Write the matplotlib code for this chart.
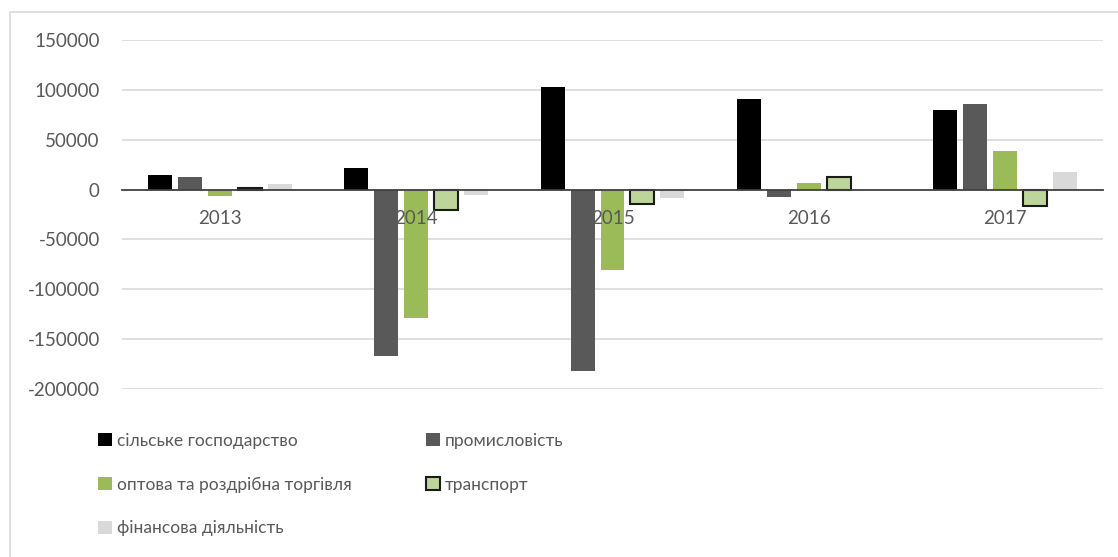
import matplotlib.pyplot as plt
import matplotlib.patches as mpatches
import numpy as np

# datos
anios = ["2013", "2014", "2015", "2016", "2017"]
series = [
    "сільське господарство",
    "промисловість",
    "оптова та роздрібна торгівля",
    "транспорт",
    "фінансова діяльність",
]
silske = [15000, 21500, 103000, 91000, 79500]
promysl = [13000, -166500, -182000, -7400, 85500]
torgivlia = [-6500, -128500, -81000, 7000, 39000]
transport = [1500, -20500, -14700, 12800, -16600]
finansy = [5800, -5000, -8700, 0, 17500]

valores = [silske, promysl, torgivlia, transport, finansy]
colores = ["#000000", "#595959", "#9BBB59", "#BDD59B", "#D9D9D9"]
bordes = [None, None, None, "#1A1A1A", None]

plt.rcParams['font.family'] = ['Lato', 'DejaVu Sans']
plt.rcParams['axes.unicode_minus'] = False
color_texto = "#595959"

fig = plt.figure(figsize=(11.18, 5.57), dpi=100)
ax = fig.add_axes([0.1091, 0.3016, 0.9866 - 0.1091, 0.9282 - 0.3016])

x = np.arange(len(anios))
paso = 0.1526
ancho = 0.122
handles = []
for i, (nombre, vals) in enumerate(zip(series, valores)):
    pos = x + (i - 2) * paso
    if bordes[i]:
        b = ax.bar(pos, vals, ancho, color=colores[i], edgecolor=bordes[i],
                   linewidth=1.5, label=nombre, zorder=1)
    else:
        b = ax.bar(pos, vals, ancho, color=colores[i], label=nombre, zorder=1)
    handles.append(b)

ax.set_xlim(-0.5, 4.5)
ax.set_ylim(-200000, 150000)
yticks = np.arange(-200000, 150001, 50000)
ax.set_yticks(yticks)
# lineas de cuadricula por debajo de las barras
for yt in yticks:
    if yt != 0:
        ax.axhline(yt, color="#D9D9D9", linewidth=1.2, zorder=0)
ax.set_axisbelow(False)
ax.xaxis.set_zorder(5)

for s in ["top", "right", "left"]:
    ax.spines[s].set_visible(False)
ax.spines["bottom"].set_position(("data", 0))
ax.spines["bottom"].set_color("#404040")
ax.spines["bottom"].set_linewidth(1.3)
ax.spines["bottom"].set_zorder(4)

ax.set_xticks(x)
ax.set_xticklabels(anios)
ax.tick_params(axis="x", length=0, pad=15, labelsize=13.5, labelcolor=color_texto)
ax.tick_params(axis="y", length=0, pad=16, labelsize=13.5, labelcolor=color_texto)

# leyenda en orden por filas
orden = [0, 2, 4, 1, 3]
fig.legend([handles[k] for k in orden], [series[k] for k in orden],
           loc="upper left", bbox_to_anchor=(0.074, 0.251), ncol=2,
           frameon=False, fontsize=12.5, labelcolor=color_texto,
           handlelength=0.8, handleheight=0.8, handletextpad=0.3,
           labelspacing=1.6, columnspacing=4.25)

# marco del grafico
marco = mpatches.Rectangle((10 / 1118, -0.1), 1.2, 0.1 + 1 - 12 / 557,
                           transform=fig.transFigure, fill=False,
                           edgecolor="#D9D9D9", linewidth=1.2)
fig.patches.append(marco)

fig.savefig("out.png", dpi=100)
